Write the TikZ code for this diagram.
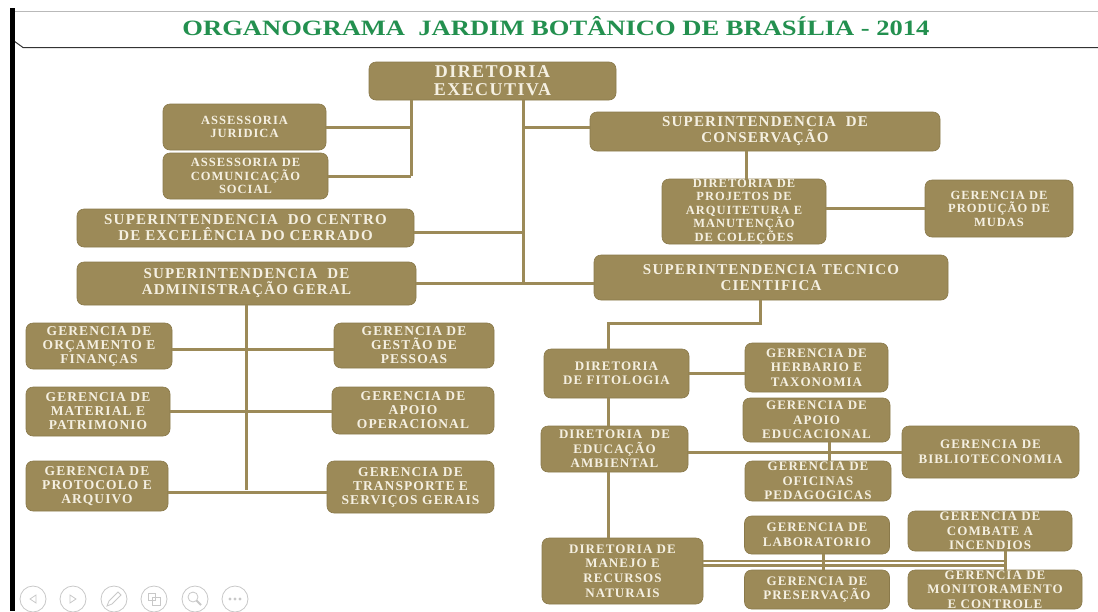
\documentclass[tikz,border=0pt]{standalone}
\usepackage{fontspec}
\setmainfont{Liberation Serif}
\newfontfamily\orgfont[LetterSpace=8]{Liberation Serif}
\definecolor{boxfill}{HTML}{9C8A58}
\definecolor{boxline}{HTML}{8A794A}
\definecolor{boxtext}{HTML}{F5F0E2}
\definecolor{titlegreen}{HTML}{23904F}
\definecolor{icongray}{HTML}{C8C8C8}
\newcommand\fsz[2]{\fontsize{#1}{#2}\selectfont}
\newcommand\fA{\orgfont\bfseries\fsz{18}{18}}
\newcommand\fB{\orgfont\bfseries\fsz{15}{16}}
\newcommand\fC{\orgfont\bfseries\fsz{12.5}{13.5}}
\newcommand\fD{\orgfont\bfseries\fsz{13.5}{14}}
\newcommand\fE{\orgfont\bfseries\fsz{13}{14.5}}
% name, cx, cy, w, h, font, text
\newcommand\orgbox[7]{%
  \node[box, minimum width=#4pt, minimum height=#5pt] (#1) at (#2,#3) {};
  \node[lab, font=#6] (#1t) at (#1.center) {#7};}
\begin{document}
\begin{tikzpicture}[x=1pt,y=-1pt,
  box/.style={draw=boxline, fill=boxfill, rounded corners=7pt, inner sep=0pt, line width=0.6pt},
  lab/.style={inner sep=0pt, align=center, text=boxtext},
  conn/.style={draw=boxfill, line width=3pt},
  connthin/.style={draw=boxfill, line width=2.2pt},
  icon/.style={circle, draw=icongray, line width=0.8pt, minimum size=26pt, inner sep=0pt},
  iconsym/.style={draw=icongray, line width=0.8pt}]
\useasboundingbox (0,0) rectangle (1098,611);
\fill[white] (0,0) rectangle (1098,611);
% frame
\draw[gray!55, line width=1pt] (12,11) -- (1098,11);
\draw[black!80, line width=1pt] (14,41) -- (23,47.5) -- (1098,47.5);
\draw[black, line width=5pt] (12,8) -- (12,611);
% title
\node[inner sep=0pt, text=titlegreen, font=\bfseries] (title) at (556,26)
  {\resizebox{747pt}{19pt}{ORGANOGRAMA\ \ JARDIM BOTÂNICO DE BRASÍLIA - 2014}};
% boxes
\orgbox{exec}{492.5}{81}{247}{38}{\fA}{DIRETORIA\\EXECUTIVA}
\orgbox{jur}{244.5}{127}{163}{46}{\fC}{ASSESSORIA\\JURIDICA}
\orgbox{com}{245.5}{176}{165}{46}{\fC}{ASSESSORIA DE\\COMUNICAÇÃO\\SOCIAL}
\orgbox{cerr}{245.5}{228}{337}{38}{\fB}{SUPERINTENDENCIA\ \ DO CENTRO\\DE EXCELÊNCIA DO CERRADO}
\orgbox{adm}{246.5}{283.5}{339}{43}{\fB}{SUPERINTENDENCIA\ \ DE\\ADMINISTRAÇÃO GERAL}
\orgbox{cons}{765}{131.5}{350}{39}{\fB}{SUPERINTENDENCIA\ \ DE\\CONSERVAÇÃO}
\orgbox{proj}{744}{211.5}{164}{65}{\fC}{DIRETORIA DE\\PROJETOS DE\\ARQUITETURA E\\MANUTENÇÃO\\DE COLEÇÕES}
\orgbox{mud}{999}{208.5}{148}{57}{\fC}{GERENCIA DE\\PRODUÇÃO DE\\MUDAS}
\orgbox{tec}{771}{277.5}{354}{45}{\fB}{SUPERINTENDENCIA TECNICO\\CIENTIFICA}
\orgbox{orc}{99}{346}{146}{46}{\fD}{GERENCIA DE\\ORÇAMENTO E\\FINANÇAS}
\orgbox{ges}{414}{345.5}{160}{45}{\fD}{GERENCIA DE\\GESTÃO DE\\PESSOAS}
\orgbox{mat}{98}{411.5}{144}{49}{\fD}{GERENCIA DE\\MATERIAL E\\PATRIMONIO}
\orgbox{apo}{413}{410.5}{162}{47}{\fD}{GERENCIA DE\\APOIO\\OPERACIONAL}
\orgbox{pro}{97}{486}{142}{50}{\fD}{GERENCIA DE\\PROTOCOLO E\\ARQUIVO}
\orgbox{tra}{410.5}{487}{167}{52}{\fD}{GERENCIA DE\\TRANSPORTE E\\SERVIÇOS GERAIS}
\orgbox{fit}{616.5}{373.5}{145}{49}{\fE}{DIRETORIA\\DE FITOLOGIA}
\orgbox{herb}{816.5}{367.5}{143}{49}{\fE}{GERENCIA DE\\HERBARIO E\\TAXONOMIA}
\orgbox{edu}{614.5}{449}{147}{46}{\fE}{DIRETORIA\ \ DE\\EDUCAÇÃO\\AMBIENTAL}
\orgbox{apoe}{816.5}{420}{147}{44}{\fE}{GERENCIA DE\\APOIO\\EDUCACIONAL}
\orgbox{bib}{990.5}{452}{177}{52}{\fE}{GERENCIA DE\\BIBLIOTECONOMIA}
\orgbox{ofi}{818}{481}{146}{40}{\fE}{GERENCIA DE\\OFICINAS\\PEDAGOGICAS}
\orgbox{man}{622.5}{571}{161}{66}{\fE}{DIRETORIA DE\\MANEJO E\\RECURSOS\\NATURAIS}
\orgbox{lab}{817}{535}{145}{38}{\fE}{GERENCIA DE\\LABORATORIO}
\orgbox{comb}{990}{531}{164}{40}{\fE}{GERENCIA DE\\COMBATE A\\INCENDIOS}
\orgbox{pres}{817}{589.5}{145}{39}{\fE}{GERENCIA DE\\PRESERVAÇÃO}
\orgbox{mon}{995}{589.5}{174}{39}{\fE}{GERENCIA DE\\MONITORAMENTO\\E CONTROLE}
% connector guide coordinates
\coordinate (ev) at (411,0);
\coordinate (mv) at (523,0);
\coordinate (tk) at (608,323);
\coordinate (lv) at (823,0);
\coordinate (cv) at (1005,0);
% connectors
\draw[conn] (exec.south -| ev) -- (com.east -| ev);
\draw[conn] (jur.east) -- (jur.east -| ev);
\draw[conn] (com.east) -- (com.east -| ev);
\draw[conn] (exec.south -| mv) -- (adm.east -| mv);
\draw[conn] ([yshift=4.5pt]cons.west) -- ([yshift=4.5pt]cons.west -| mv);
\draw[conn] ([yshift=-4pt]cerr.east) -- ([yshift=-4pt]cerr.east -| mv);
\draw[conn] (adm.east) -- (adm.east -| tec.west);
\draw[conn] ([xshift=2pt]proj.north) -- ([xshift=2pt]proj.north |- cons.south);
\draw[conn] (proj.east |- mud.west) -- (mud.west);
\draw[conn] (adm.south) -- ([yshift=-4pt]pro.east -| adm.south);
\draw[conn] ([yshift=-3pt]orc.east) -- ([yshift=-3pt]orc.east -| ges.west);
\draw[conn] (mat.east) -- (mat.east -| apo.west);
\draw[conn] ([yshift=-6pt]pro.east) -- ([yshift=-6pt]pro.east -| tra.west);
\draw[conn] ([xshift=-11pt]tec.south) -- ([xshift=-11pt]tec.south |- tk) -- (tk) -- (fit.north -| tk);
\draw[conn] (fit.south -| tk) -- (edu.north -| tk);
\draw[conn] (edu.south -| tk) -- (man.north -| tk);
\draw[conn] (fit.east) -- (fit.east -| herb.west);
\draw[conn] (edu.east |- bib.west) -- (bib.west);
\draw[conn] ([xshift=12.5pt]apoe.south) -- ([xshift=12.5pt]apoe.south |- ofi.north);
\draw[conn] (lab.south -| lv) -- (pres.north -| lv);
\draw[conn] (comb.south -| cv) -- (mon.north -| cv);
\draw[connthin] ([yshift=10pt]man.east) -- ([yshift=10pt]man.east -| cv);
\draw[connthin] ([yshift=5.5pt]man.east) -- ([yshift=5.5pt]man.east -| cv);
% slide-show icons
\node[icon] (ic1) at (33,599) {};
\node[icon] (ic2) at (73,599) {};
\node[icon] (ic3) at (114,599) {};
\node[icon] (ic4) at (154,599) {};
\node[icon] (ic5) at (195,599) {};
\node[icon] (ic6) at (235,599) {};
\draw[iconsym, shift={(ic1)}] (3,-4) -- (-3,0) -- (3,4) -- cycle;
\draw[iconsym, shift={(ic2)}] (-3,-4) -- (3,0) -- (-3,4) -- cycle;
\draw[iconsym, shift={(ic3)}] (-7,7) -- (-5,2) -- (4,-7) -- (7,-4) -- (-2,5) -- cycle;
\draw[iconsym, shift={(ic4)}] (-6,-6) rectangle (1,1) (-2,-2) rectangle (6,6);
\draw[iconsym, shift={(ic5)}] (-2,-2) circle[radius=5];
\draw[icongray, line width=2pt, shift={(ic5)}] (1.5,1.5) -- (6,6);
\fill[icongray, shift={(ic6)}] (-5,0) circle[radius=1.6] (0,0) circle[radius=1.6] (5,0) circle[radius=1.6];
\end{tikzpicture}
\end{document}
